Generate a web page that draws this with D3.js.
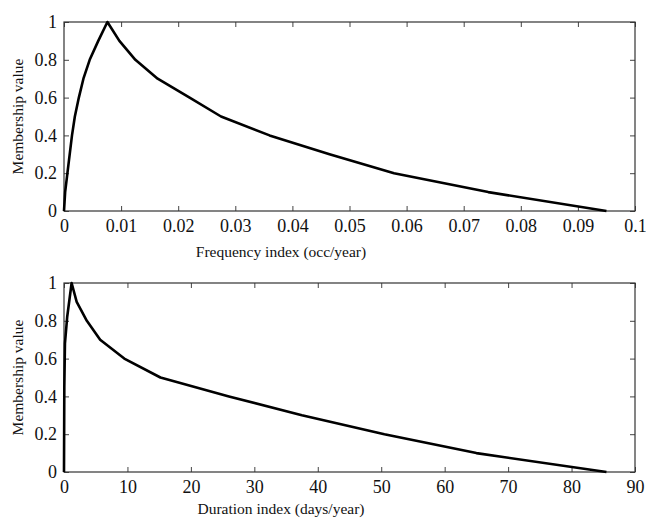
<!DOCTYPE html>
<html>
<head>
<meta charset="utf-8">
<script src="https://cdn.jsdelivr.net/npm/d3@7"></script>
<style>
  html, body { margin: 0; padding: 0; background: #fff; }
  svg { display: block; }
  .tick text { font-family: "Liberation Serif", "Times New Roman", serif; font-size: 18px; fill: #111; }
  .lbl { font-family: "Liberation Serif", "Times New Roman", serif; font-size: 15.5px; fill: #111; }
</style>
</head>
<body>
<svg id="c" width="646" height="522"></svg>
<script>
// ---- Data ----
const freqX = [0, 0.0001, 0.0002, 0.0006, 0.0014, 0.0019, 0.0026, 0.0034, 0.0045, 0.006, 0.0076, 0.0097, 0.0125, 0.0164, 0.022, 0.0275, 0.036, 0.0465, 0.0578, 0.0743, 0.095];
const freqY = [0, 0.05, 0.1, 0.2, 0.4, 0.5, 0.6, 0.7, 0.8, 0.9, 1.0, 0.9, 0.8, 0.7, 0.6, 0.5, 0.4, 0.3, 0.2, 0.1, 0];
const durX = [0, 0.05, 0.15, 0.5, 1.2, 2.0, 3.6, 5.7, 9.5, 15.2, 26, 37.5, 50.5, 65, 85.5];
const durY = [0, 0.45, 0.68, 0.82, 1.0, 0.9, 0.8, 0.7, 0.6, 0.5, 0.4, 0.3, 0.2, 0.1, 0];
const freqTicks = [0, 0.01, 0.02, 0.03, 0.04, 0.05, 0.06, 0.07, 0.08, 0.09, 0.1];
const durTicks = [0, 10, 20, 30, 40, 50, 60, 70, 80, 90];
const yTicks = [0, 0.2, 0.4, 0.6, 0.8, 1];
const freqLabel = "Frequency index (occ/year)";
const durLabel = "Duration index (days/year)";
const yLabel = "Membership value";

const svg = d3.select("#c");

function panel(cfg) {
  const {top, bottom, left, right, xDomain, xTicks, xs, ys, xFmt, xLabel, titleOff} = cfg;
  const x = d3.scaleLinear().domain(xDomain).range([left, right]);
  const y = d3.scaleLinear().domain([0, 1]).range([bottom, top]);
  const g = svg.append("g");
  const tl = 5;

  const ab = g.append("g").attr("transform", `translate(0,${bottom})`)
    .call(d3.axisBottom(x).tickValues(xTicks).tickFormat(xFmt).tickSizeInner(-tl).tickSizeOuter(0).tickPadding(8));
  const at = g.append("g").attr("transform", `translate(0,${top})`)
    .call(d3.axisTop(x).tickValues(xTicks).tickFormat("").tickSizeInner(-tl).tickSizeOuter(0));
  const al = g.append("g").attr("transform", `translate(${left},0)`)
    .call(d3.axisLeft(y).tickValues(yTicks).tickFormat(d => d === 0 ? "0" : d === 1 ? "1" : d3.format(".1f")(d)).tickSizeInner(-tl).tickSizeOuter(0).tickPadding(7));
  const ar = g.append("g").attr("transform", `translate(${right},0)`)
    .call(d3.axisRight(y).tickValues(yTicks).tickFormat("").tickSizeInner(-tl).tickSizeOuter(0));

  [ab, at, al, ar].forEach(a => {
    a.select(".domain").remove();
    a.selectAll(".tick line").attr("stroke", "#444").attr("stroke-width", 1);
  });
  ab.selectAll(".tick text").attr("dy", "0.71em");

  g.append("rect").attr("x", left).attr("y", top)
    .attr("width", right - left).attr("height", bottom - top)
    .attr("fill", "none").attr("stroke", "#333").attr("stroke-width", 1.2);

  const pts = xs.map((v, i) => [v, ys[i]]);
  g.append("path").datum(pts)
    .attr("fill", "none").attr("stroke", "#000").attr("stroke-width", 2.6)
    .attr("stroke-linejoin", "round")
    .attr("d", d3.line().x(d => x(d[0])).y(d => y(d[1])));

  g.append("text").attr("class", "lbl").attr("x", 281).attr("y", bottom + titleOff)
    .attr("text-anchor", "middle").text(xLabel);
  g.append("text").attr("class", "lbl")
    .attr("transform", `translate(${23},${(top + bottom) / 2}) rotate(-90)`)
    .attr("text-anchor", "middle").text(yLabel);
}

panel({top: 22, bottom: 211, left: 64, right: 635, xDomain: [0, 0.1], xTicks: freqTicks,
  xs: freqX, ys: freqY, xFmt: d => d === 0 ? "0" : d === 0.1 ? "0.1" : d3.format(".2f")(d), xLabel: freqLabel, titleOff: 46});
panel({top: 283, bottom: 472, left: 64, right: 635, xDomain: [0, 90], xTicks: durTicks,
  xs: durX, ys: durY, xFmt: d => String(d), xLabel: durLabel, titleOff: 42});
</script>
</body>
</html>
